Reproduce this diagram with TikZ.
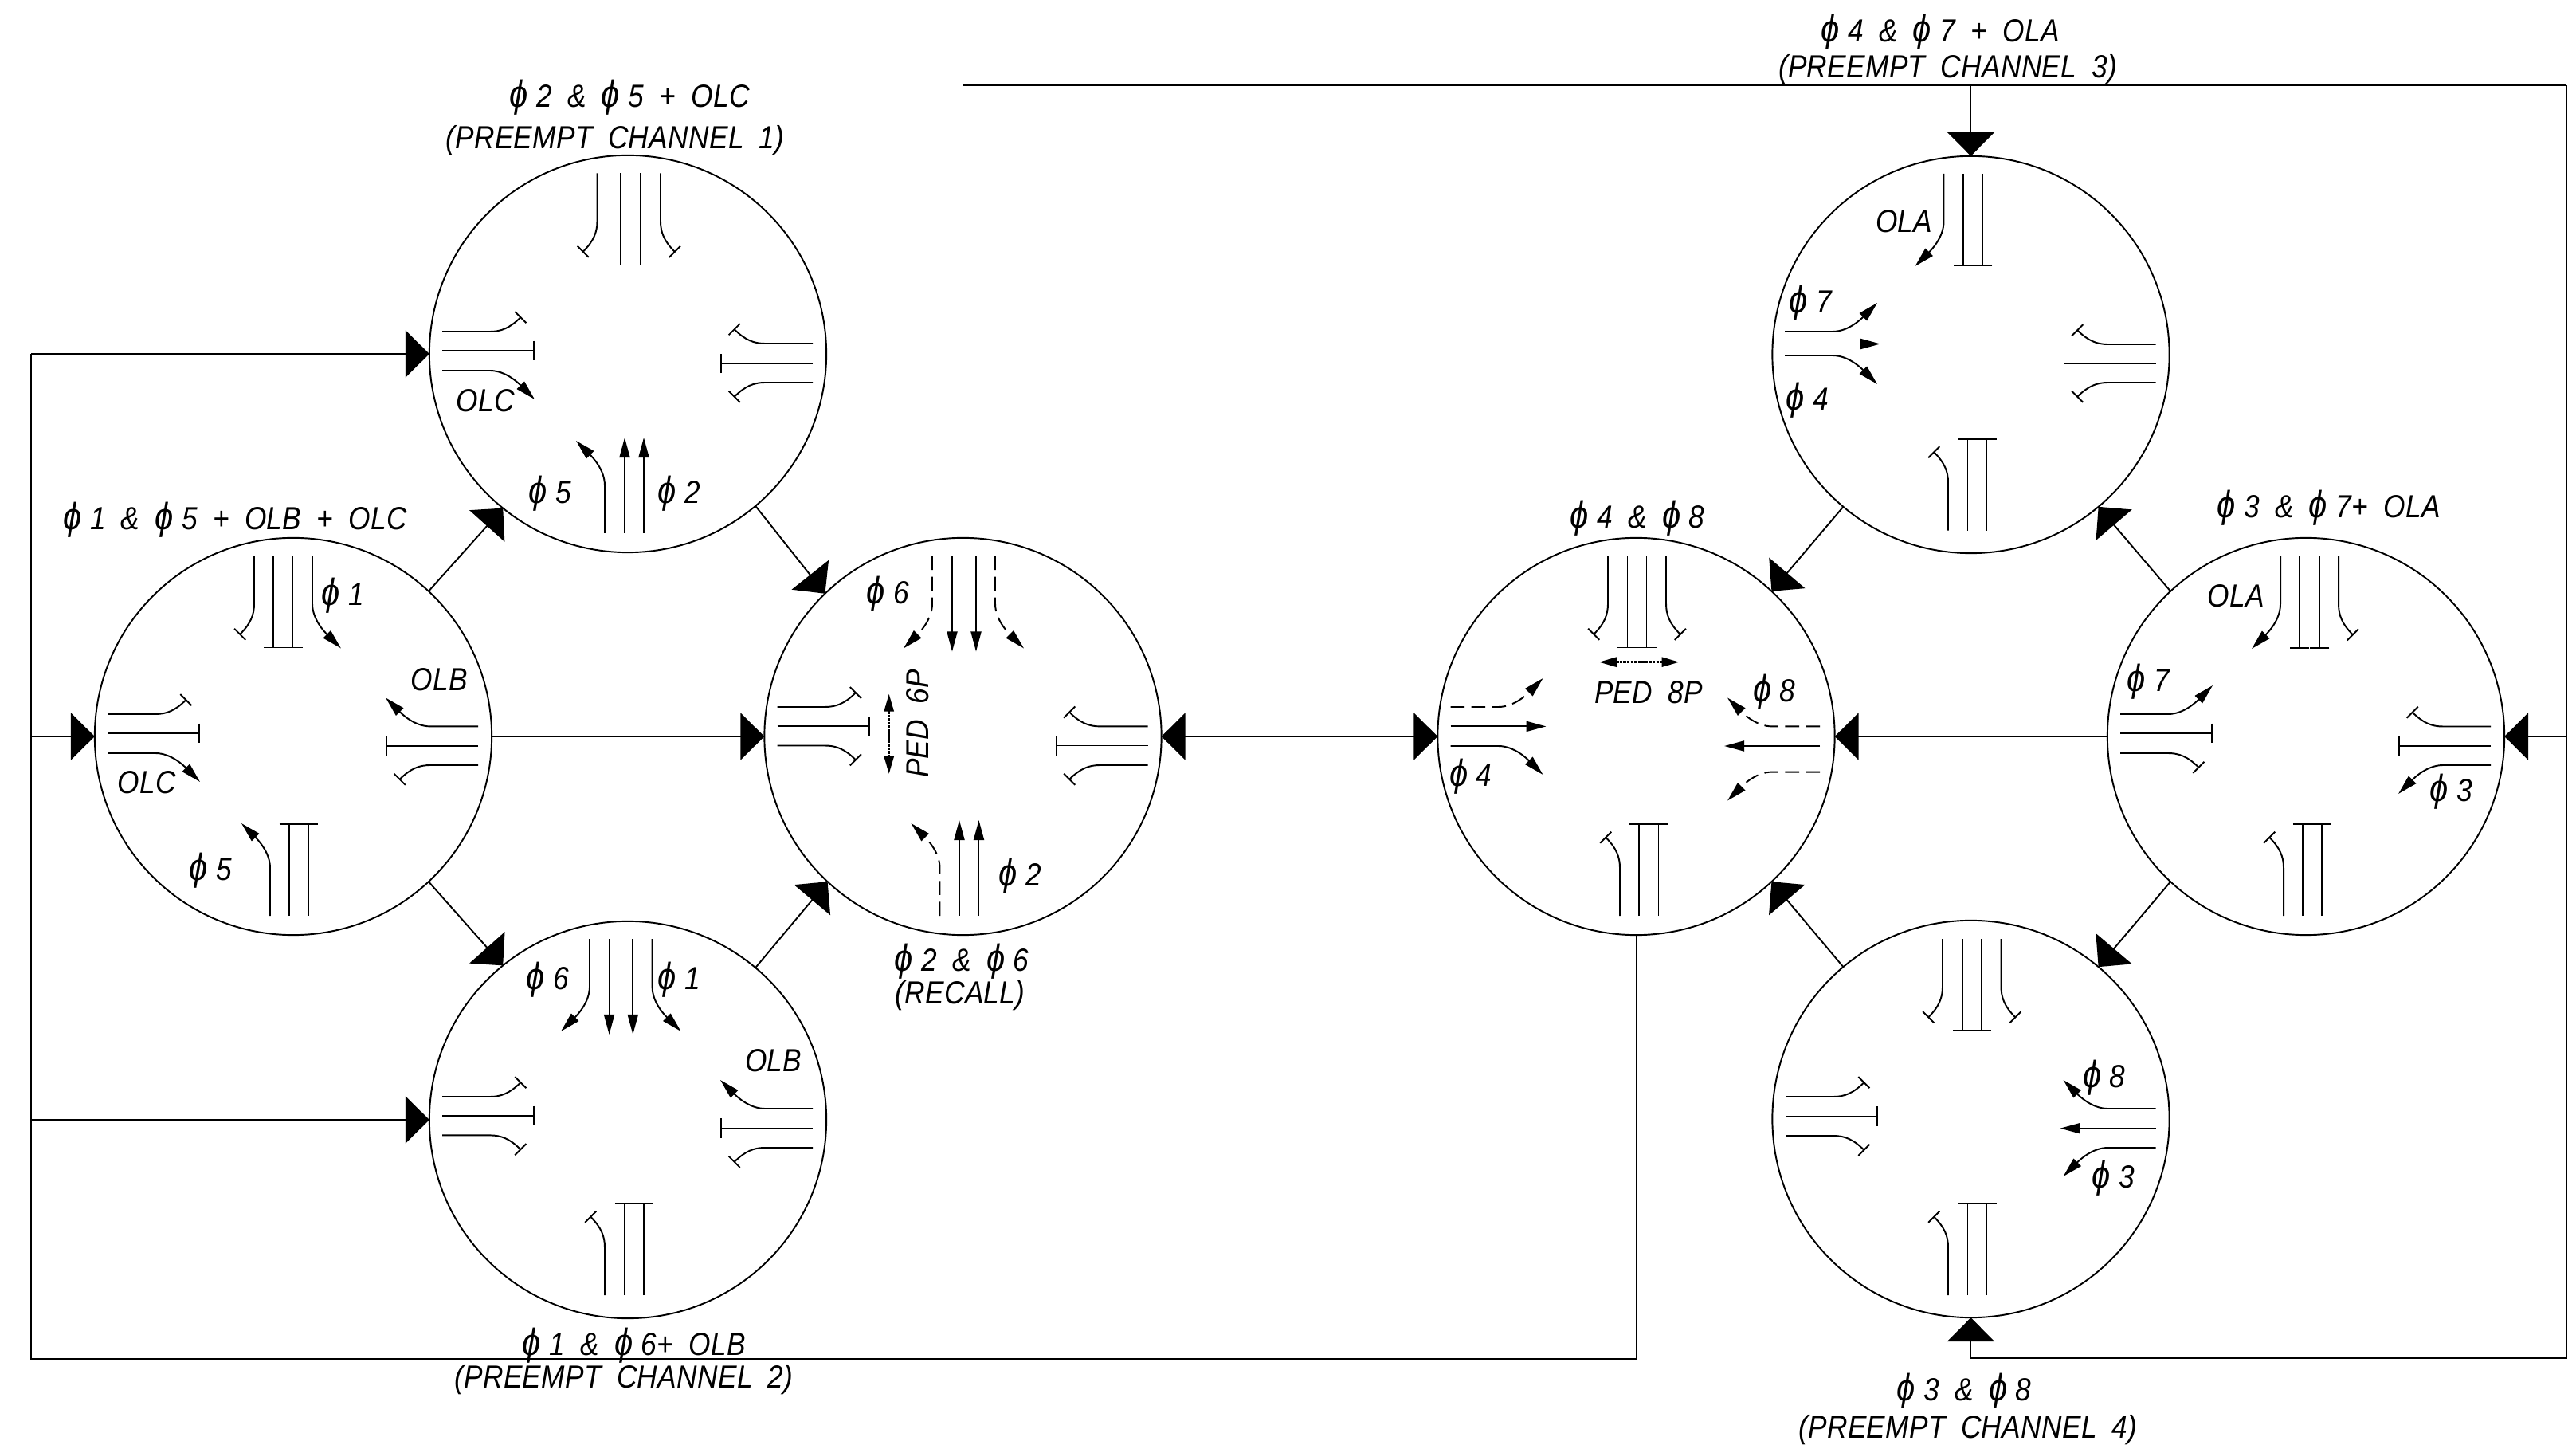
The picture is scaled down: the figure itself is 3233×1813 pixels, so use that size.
\documentclass[tikz,border=0pt]{standalone}
\usepackage{fontspec}
\setmainfont{Liberation Sans}[FakeStretch=0.88,WordSpace=1.9,LetterSpace=0.8]
\usetikzlibrary{arrows.meta,positioning,calc}

\tikzset{
  phase/.style={draw,circle,minimum size=4.98cm,inner sep=0pt,outer sep=0pt,line width=0.55pt},
  wire/.style={line width=0.55pt},
  flow/.style={wire,-{Triangle[length=0.3cm,width=0.59cm]}},
  flowboth/.style={wire,{Triangle[length=0.3cm,width=0.59cm]}-{Triangle[length=0.3cm,width=0.59cm]}},
  lane/.style={line width=0.55pt},
  thru1/.style={-{Bar[width=0.245cm]}},
  thru2/.style={-{Triangle[length=0.25cm,width=0.13cm]}},
  turn1/.style={-{Bar[width=0.2cm]}},
  turn2/.style={-{Triangle[length=0.25cm,width=0.13cm]}},
  turn3/.style={turn2,dash pattern=on 5pt off 2.4pt},
  pedline/.style={line width=0.7pt,dash pattern=on 1pt off 0.3pt,{Triangle[length=0.22cm,width=0.12cm]}-{Triangle[length=0.22cm,width=0.12cm]}},
  lbl/.style={font=\fontsize{11.4}{13}\selectfont\itshape,inner sep=0pt,text height=0.29cm,text depth=0pt},
}

% approach: circle, rotation, start along the travel, lanes as offset/turn/kind
\newcommand{\approach}[4]{
  \begin{scope}[shift={(#1.center)},rotate=#2]
    \foreach \lat/\turn/\kind in {#4} {
      \ifnum\turn=0
        \pgfmathsetmacro{\endx}{#3+(\kind==1?116:120)}
        \draw[lane,thru\kind] (#3,\lat) -- (\endx,\lat);
      \else
        \pgfmathsetmacro{\endx}{#3+60+(\kind==1?39:56)}
        \pgfmathsetmacro{\endy}{\lat+\turn*(\kind==1?18.5:36)}
        \pgfmathsetmacro{\pull}{\kind==1?14:20}
        \draw[lane,turn\kind] (#3,\lat) -- ++(60,0) .. controls +(\pull,0) and +(-\pull,-\turn*\pull) .. (\endx,\endy);
      \fi
    }
  \end{scope}
}
\newcommand{\ph}{{\fontsize{13.5}{13}\selectfont ϕ}\kern3pt}

\begin{document}
\begin{tikzpicture}[x=0.01cm,y=-0.01cm]
\useasboundingbox (0,0) rectangle (3233,1813);
% Circles
\foreach \name/\cx/\cy in {C1/788/444,C2/368/924,C3/1208.5/924,C4/788/1405,C5/2053.5/924,C6/2473.5/445,C7/2894/924,C8/2473.5/1404} {
  \node[phase] (\name) at (\cx,\cy) {};
}
% Rails
\coordinate (railNE) at (3221,107);
\coordinate (railSE) at (3221,1704);
\coordinate (railNW) at (39,444);
\coordinate (railSW) at (39,1705);
\draw[wire] (C3.north) |- (railNE);
\draw[flow] (railNE) -- (railSE) -| (C8.south);
\draw[flow] (C6.north |- railNE) -- (C6.north);
\draw[flow] (railNE |- C7.east) -- (C7.east);
\draw[wire] (C5.south) |- (railSW) -- (railNW);
\draw[flow] (railNW) -- (C1.west);
\draw[flow] (railSW |- C2.west) -- (C2.west);
\draw[flow] (railSW |- C4.west) -- (C4.west);
% Moves between circles
\draw[flow] (C2.east) -- (C3.west);
\draw[flow] (C2.47) -- (C1.231);
\draw[flow] (C2.-47) -- (C4.129);
\draw[flow] (C1.-50) -- (C3.134);
\draw[flow] (C4.50) -- (C3.227);
\draw[flowboth] (C3.east) -- (C5.west);
\draw[flow] (C7.west) -- (C5.east);
\draw[flow] (C7.133) -- (C6.-50);
\draw[flow] (C6.230) -- (C5.47);
\draw[flow] (C7.227) -- (C8.50);
\draw[flow] (C8.130) -- (C5.-47);
% Lanes, C1
\approach{C1}{0}{-233}{-28/-1/1,-4/0/1,21/1/2}
\approach{C1}{180}{-232}{13/1/1,-12/0/1,-36/-1/1}
\approach{C1}{-90}{-226.5}{38.5/1/1,9/0/1,-16/0/1,-41/-1/1}
\approach{C1}{90}{-225}{-29/-1/2,-4/0/2,20/0/2}
% Lanes, C2
\approach{C2}{0}{-233}{-28/-1/1,-4/0/1,21/1/2}
\approach{C2}{180}{-232}{12.6/1/2,-12/0/1,-36/-1/1}
\approach{C2}{-90}{-226.5}{49/1/1,25/0/1,0.5/0/1,-24/-1/2}
\approach{C2}{90}{-225}{-29/-1/2,-5/0/1,19/0/1}
% Lanes, C3
\approach{C3}{0}{-233}{-37/-1/1,-12.6/0/1,11.5/1/1}
\approach{C3}{180}{-232}{12.6/1/1,-11.5/0/1,-36/-1/1}
\approach{C3}{-90}{-226.5}{38.5/1/3,13.5/0/2,-16.5/0/2,-40.5/-1/3}
\approach{C3}{90}{-225}{-29/-1/3,-4.5/0/2,20/0/2}
% Lanes, C4
\approach{C4}{0}{-233}{-29/-1/1,-5/0/1,19.4/1/1}
\approach{C4}{180}{-232}{14/1/2,-10.7/0/1,-35/-1/1}
\approach{C4}{-90}{-227}{48/1/2,23.4/0/2,-6.3/0/2,-30.6/-1/2}
\approach{C4}{90}{-220}{-29/-1/1,-4/0/1,20/0/1}
% Lanes, C5
\approach{C5}{0}{-233}{-37/-1/3,-12.6/0/2,12/1/2}
\approach{C5}{180}{-230.5}{12.6/1/3,-12/0/2,-44.6/-1/3}
\approach{C5}{-90}{-226.5}{35.5/1/1,11/0/1,-13/0/1,-37.5/-1/1}
\approach{C5}{90}{-225}{-20.5/-1/1,3.6/0/1,28/0/1}
% Lanes, C6
\approach{C6}{0}{-233.5}{-29/-1/2,-13.5/0/2,1/1/2}
\approach{C6}{180}{-232}{13/1/1,-11/0/1,-35/-1/1}
\approach{C6}{-90}{-227}{34/1/2,9.5/0/1,-14.7/0/1}
\approach{C6}{90}{-220.6}{-28.5/-1/1,-4/0/1,20/0/1}
% Lanes, C7
\approach{C7}{0}{-233}{-28/-1/2,-4/0/1,21/1/1}
\approach{C7}{180}{-232}{12.5/1/1,-12/0/1,-36/-1/2}
\approach{C7}{-90}{-226}{32/1/2,8/0/1,-17/0/1,-41/-1/1}
\approach{C7}{90}{-225}{-28/-1/1,-4/0/1,20/0/1}
% Lanes, C8
\approach{C8}{0}{-232.5}{-28/-1/1,-3.5/0/1,21/1/1}
\approach{C8}{180}{-232}{13/1/2,-11.7/0/2,-36/-1/2}
\approach{C8}{-90}{-226}{35.5/1/1,10.5/0/1,-13.6/0/1,-38/-1/1}
\approach{C8}{90}{-221}{-28.5/-1/1,-4/0/1,20/0/1}
% Ped crossings
\coordinate (ped6a) at (1115.7,870.6);
\coordinate (ped6b) at (1115.7,971);
\coordinate (ped8a) at (2006.8,830.7);
\coordinate (ped8b) at (2107.5,830.7);
\draw[pedline] (ped6a) -- (ped6b);
\draw[pedline] (ped8a) -- (ped8b);
% Titles
\node[lbl] (t1a) at (790,120) {\ph2 \& \ph5 + OLC};
\node[lbl] (t1b) at (772,172) {(PREEMPT CHANNEL 1)};
\node[lbl] (t2a) at (295,650) {\ph1 \& \ph5 + OLB + OLC};
\node[lbl] (t3a) at (1207,1203.6) {\ph2 \& \ph6};
\node[lbl] (t3b) at (1205,1245) {(RECALL)};
\node[lbl] (t4a) at (795.7,1686) {\ph1 \& \ph6+ OLB};
\node[lbl] (t4b) at (783,1726.5) {(PREEMPT CHANNEL 2)};
\node[lbl] (t5a) at (2055,648) {\ph4 \& \ph8};
\node[lbl] (t6a) at (2435,38) {\ph4 \& \ph7 + OLA};
\node[lbl] (t6b) at (2444.6,83) {(PREEMPT CHANNEL 3)};
\node[lbl] (t7a) at (2922.6,635) {\ph3 \& \ph7+ OLA};
\node[lbl] (t8a) at (2465,1743) {\ph3 \& \ph8};
\node[lbl] (t8b) at (2470,1790) {(PREEMPT CHANNEL 4)};
% Lane labels
\foreach \id/\px/\py/\txt in {a/609/502/OLC,b/690/617/\ph5,c/852/617/\ph2,
  d/430/745/\ph1,e/551/852/OLB,f/184.5/981/OLC,g/264/1090/\ph5,
  h/1114/743/\ph6,i/1280/1097/\ph2,
  j/687.5/1227/\ph6,k/852.5/1227/\ph1,l/970.7/1330/OLB,
  m/2069/867.5/PED 8P,n/2226.8/866/\ph8,o/1845.7/972/\ph4,
  p/2389.6/277.5/OLA,q/2272/378/\ph7,r/2268/499.6/\ph4,
  s/2806/747/OLA,u/2696/853/\ph7,v/3076/991/\ph3,
  w/2640.7/1350/\ph8,y/2652/1476/\ph3} {
  \node[lbl] (mv\id) at (\px,\py) {\txt};
}
\node[lbl,rotate=90] (mvped) at (1151.4,908) {PED 6P};
\end{tikzpicture}
\end{document}
